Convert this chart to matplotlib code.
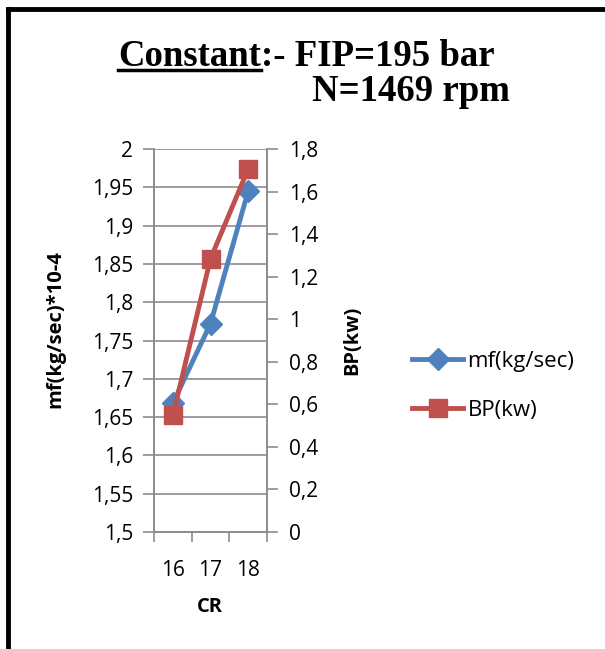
import matplotlib
matplotlib.use("Agg")
import matplotlib.pyplot as plt
from matplotlib.ticker import FuncFormatter, FixedLocator, MultipleLocator
from matplotlib.lines import Line2D

categories = ["16", "17", "18"]
mf_values = [1.668, 1.772, 1.945]
bp_values = [0.548, 1.284, 1.706]
mf_label = "mf(kg/sec)"
bp_label = "BP(kw)"

blue = "#4F81BD"
red = "#C0504D"
grid_c = "#8C8C8C"
font = "Open Sans"
W, H = 605, 649

fig = plt.figure(figsize=(6.05, 6.49), dpi=100)
ax = fig.add_axes([154 / W, 1 - 532 / H, 113 / W, 383 / H])
ax2 = ax.twinx()

x = list(range(len(categories)))
ax.set_xlim(-0.5, len(categories) - 0.5)
ax.set_ylim(1.5, 2.0)
ax2.set_ylim(0, 1.8)

ax.yaxis.set_major_locator(MultipleLocator(0.05))
ax2.yaxis.set_major_locator(MultipleLocator(0.2))
fmt = FuncFormatter(lambda v, p: ("%g" % round(v, 3)).replace(".", ","))
ax.yaxis.set_major_formatter(fmt)
ax2.yaxis.set_major_formatter(fmt)

ax.set_xticks(x)
ax.set_xticklabels(categories)
ax.xaxis.set_minor_locator(FixedLocator([i - 0.5 for i in range(len(categories) + 1)]))
ax.tick_params(axis="x", which="major", length=0, pad=20)
ax.tick_params(axis="x", which="minor", length=7, width=1.2, color=grid_c, direction="out")
ax.tick_params(axis="y", length=8, width=1.2, color=grid_c, direction="out", pad=7)
ax2.tick_params(axis="y", length=8, width=1.2, color=grid_c, direction="out", pad=8)
for a in (ax, ax2):
    for lab in a.get_xticklabels() + a.get_yticklabels():
        lab.set_fontfamily(font)
        lab.set_fontsize(15)
        lab.set_color("black")

ax.grid(axis="y", color=grid_c, linewidth=1.2)
ax.set_axisbelow(True)
for a in (ax, ax2):
    a.spines["top"].set_visible(False)
    for s in ("left", "right", "bottom"):
        a.spines[s].set_color(grid_c)
        a.spines[s].set_linewidth(1.2)

ax2.set_zorder(ax.zorder + 1)
ax2.patch.set_visible(False)

ax.plot(x, mf_values, color=blue, linewidth=3.5, marker="D", markersize=11,
        markerfacecolor=blue, markeredgecolor=blue, zorder=3)
ax2.plot(x, bp_values, color=red, linewidth=3.5, marker="s", markersize=13.5,
         markerfacecolor=red, markeredgecolor=red, zorder=4)

lf = {"family": font, "size": 14.5, "weight": "bold"}
fig.text(55 / W, 1 - 329 / H, "mf(kg/sec)*10-4", fontdict=lf, rotation=90,
         ha="center", va="center")
fig.text(352 / W, 1 - 340 / H, "BP(kw)", fontdict=lf, rotation=90,
         ha="center", va="center")
fig.text(210 / W, 1 - 607 / H, "CR", fontdict=lf, ha="center", va="center")

handles = [
    Line2D([], [], color=blue, linewidth=3.5, marker="D", markersize=11),
    Line2D([], [], color=red, linewidth=3.5, marker="s", markersize=13.5),
]
fig.legend(handles, [mf_label, bp_label], loc="center left",
           bbox_to_anchor=(0.648, 0.405), frameon=False,
           prop={"family": font, "size": 16}, handlelength=2.3,
           handletextpad=0.2, labelspacing=1.25)

# Title
tf = {"family": "Liberation Serif", "weight": "bold", "size": 26.5}
t1 = fig.text(118 / W, 1 - 66 / H, "Constant", fontdict=tf, ha="left", va="baseline")
fig.canvas.draw()
bb = t1.get_window_extent()
fig.text(bb.x1 / W, 1 - 66 / H, ":- FIP=195 bar", fontdict=tf, ha="left", va="baseline")
fig.add_artist(Line2D([bb.x0 / W, bb.x1 / W], [1 - 70 / H, 1 - 70 / H],
                      color="black", linewidth=2.5))
fig.text(312 / W, 1 - 101 / H, "N=1469 rpm", fontdict=tf, ha="left", va="baseline")

# Frame lines
fig.add_artist(Line2D([8 / W, 1.0], [1 - 9 / H, 1 - 9 / H], color="black", linewidth=3.5))
fig.add_artist(Line2D([8 / W, 8 / W], [0, 1 - 9 / H], color="black", linewidth=3.5))

fig.savefig("out.png", dpi=100)
